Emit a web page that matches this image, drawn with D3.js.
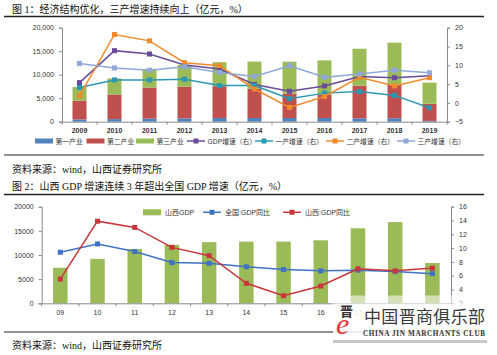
<!DOCTYPE html>
<html><head><meta charset="utf-8">
<script src="https://cdn.jsdelivr.net/npm/d3@7"></script>
<style>
html,body{margin:0;padding:0;background:#fff;}
svg{display:block;}
.cap{font-family:"Liberation Serif","Noto Sans CJK SC",serif;fill:#111;}
.ax{font-family:"Liberation Sans","Noto Sans CJK SC",sans-serif;fill:#333;}
</style></head><body>
<svg id="c" width="497" height="355"></svg>
<script>
// ---- Chart 1 data ----
const years = ["2009","2010","2011","2012","2013","2014","2015","2016","2017","2018","2019"];
const primary   = [478, 554, 641, 698, 774, 788, 783, 785, 719, 741, 170];
const secondary = [3994, 5234, 6635, 6731, 6792, 6200, 5194, 4926, 6950, 7089, 3650];
const tertiary  = [2887, 3412, 3962, 4683, 5099, 5800, 6790, 7339, 7860, 8988, 4490];
const gdpGrowth  = [5.4, 13.9, 13.0, 10.1, 9.0, 4.9, 3.1, 4.5, 7.0, 6.7, 7.2];
const g1Growth   = [4.1, 6.1, 6.1, 6.3, 4.6, 4.6, 1.1, 2.6, 3.0, 2.0, -1.3];
const g2Growth   = [1.9, 18.2, 16.5, 10.7, 9.9, 3.7, -1.2, 1.7, 6.8, 4.5, 6.7];
const g3Growth   = [10.5, 9.3, 8.7, 9.6, 8.1, 7.0, 9.9, 6.8, 7.7, 8.7, 8.0];
const leftTicks1 = [0, 5000, 10000, 15000, 20000];
const rightTicks1 = [-5, 0, 5, 10, 15, 20];

// ---- Chart 2 data ----
const years2 = ["09","10","11","12","13","14","15","16","17","18","19"];
const shanxiGDP = [7358, 9200, 11238, 12112, 12665, 12761, 12766, 13050, 15528, 16818, 8340];
const nationalGrowth = [9.4, 10.6, 9.5, 7.9, 7.8, 7.3, 6.9, 6.7, 6.8, 6.6, 6.3];
const shanxiGrowth = [5.5, 13.9, 13.0, 10.1, 8.9, 4.9, 3.1, 4.5, 7.0, 6.7, 7.1];
const leftTicks2 = [0, 5000, 10000, 15000, 20000];
const rightTicks2 = [2, 4, 6, 8, 10, 12, 14, 16];

const svg = d3.select("#c");
const AX = "#8a8a8a";

// ---------- captions & rules ----------
function cap(x, y, t, size) {
  svg.append("text").attr("class","cap").attr("x",x).attr("y",y)
    .attr("font-size",size).text(t);
}
function rule(x1, x2, y, w) {
  svg.append("line").attr("x1",x1).attr("x2",x2).attr("y1",y).attr("y2",y)
    .attr("stroke","#222").attr("stroke-width",w);
}
cap(12, 13, "图 1：经济结构优化，三产增速持续向上（亿元，%）", 10);
rule(4, 484, 16.5, 1.5);
rule(4, 484, 155, 1.2);
cap(12, 173, "资料来源：wind，山西证券研究所", 10);
cap(12, 190, "图 2：山西 GDP 增速连续 3 年超出全国 GDP 增速（亿元，%）", 10);
rule(4, 484, 194.5, 1.5);
rule(4, 484, 332, 1.2);
cap(12, 349, "资料来源：wind，山西证券研究所", 10);

// ---------- chart 1 ----------
(function(){
  const x = d3.scaleBand().domain(years).range([62, 447]).paddingInner(0.6).paddingOuter(0.3);
  const xb = d3.scaleBand().domain(years).range([62, 447]);
  const yL = d3.scaleLinear().domain([0, 20000]).range([121.7, 27.7]);
  const yR = d3.scaleLinear().domain([-5, 20]).range([121.7, 27.7]);
  const g = svg.append("g");

  const stackData = years.map((y,i)=>({year:y, p:primary[i], s:secondary[i], t:tertiary[i]}));
  const stack = d3.stack().keys(["p","s","t"])(stackData);
  const barColors = {p:"#4F81BD", s:"#C0504D", t:"#9BBB59"};
  stack.forEach(layer=>{
    g.selectAll(null).data(layer).join("rect")
      .attr("x", d=>xb(d.data.year) + (xb.bandwidth()-14)/2)
      .attr("width", 14)
      .attr("y", d=>yL(d[1]))
      .attr("height", d=>yL(d[0]) - yL(d[1]))
      .attr("fill", barColors[layer.key]);
  });

  // axes
  const axL = d3.axisLeft(yL).tickValues(leftTicks1).tickFormat(d3.format(",")).tickSize(3).tickPadding(5);
  const gl = g.append("g").attr("transform","translate(62,0)").call(axL);
  const axR = d3.axisRight(yR).tickValues(rightTicks1).tickSize(3).tickPadding(5);
  const gr = g.append("g").attr("transform","translate(447,0)").call(axR);
  const axB = d3.axisBottom(xb).tickSize(0).tickPadding(6);
  const gb = g.append("g").attr("transform","translate(0,121.7)").call(axB);
  gb.selectAll(null).data(years.concat(["end"])).join("line")
    .attr("x1",(d,i)=>62 + i*xb.step()).attr("x2",(d,i)=>62 + i*xb.step())
    .attr("y1",0).attr("y2",3).attr("stroke",AX);
  [gl,gr,gb].forEach(a=>{
    a.selectAll("path,line").attr("stroke",AX);
    a.selectAll("text").attr("class","ax").attr("font-size",7).attr("fill","#333");
    a.attr("font-family",null).attr("font-size",null);
  });
  gb.selectAll("text").attr("font-weight","bold").attr("fill","#444");

  // lines
  const series = [
    {v:gdpGrowth, c:"#6A4B9A"},
    {v:g1Growth, c:"#2C97B3"},
    {v:g2Growth, c:"#F08A2C"},
    {v:g3Growth, c:"#8FA8D8"}
  ];
  const cx = d=>xb(d.y) + xb.bandwidth()/2;
  series.forEach(s=>{
    const pts = years.map((y,i)=>({y, v:s.v[i]}));
    g.append("path").datum(pts)
      .attr("d", d3.line().x(cx).y(d=>yR(d.v)))
      .attr("fill","none").attr("stroke",s.c).attr("stroke-width",1.5);
    g.selectAll(null).data(pts).join("rect")
      .attr("x", d=>cx(d)-2.5).attr("y", d=>yR(d.v)-2.5)
      .attr("width",5).attr("height",5).attr("fill",s.c);
  });

  // legend
  const leg = [
    {t:"第一产业", c:"#4F81BD", type:"bar", x:35},
    {t:"第二产业", c:"#C0504D", type:"bar", x:86.5},
    {t:"第三产业", c:"#9BBB59", type:"bar", x:136},
    {t:"GDP增速（右）", c:"#6A4B9A", type:"line", x:187},
    {t:"一产增速（右）", c:"#2C97B3", type:"line", x:255},
    {t:"二产增速（右）", c:"#F08A2C", type:"line", x:326},
    {t:"三产增速（右）", c:"#8FA8D8", type:"line", x:397}
  ];
  const ly = 141;
  leg.forEach(l=>{
    if (l.type==="bar") {
      g.append("rect").attr("x",l.x).attr("y",ly-2.5).attr("width",18).attr("height",5).attr("fill",l.c);
    } else {
      g.append("line").attr("x1",l.x).attr("x2",l.x+18).attr("y1",ly).attr("y2",ly)
        .attr("stroke",l.c).attr("stroke-width",1.5);
      g.append("rect").attr("x",l.x+6.5).attr("y",ly-2.5).attr("width",5).attr("height",5).attr("fill",l.c);
    }
    g.append("text").attr("class","ax").attr("x",l.x+20.5).attr("y",ly+2.5)
      .attr("font-size",6.8).attr("fill","#444").text(l.t);
  });
})();

// ---------- chart 2 ----------
(function(){
  const xb = d3.scaleBand().domain(years2).range([41.7, 451]);
  const yL = d3.scaleLinear().domain([0, 20000]).range([303.3, 206.7]);
  const yR = d3.scaleLinear().domain([2, 16]).range([303.3, 206.7]);
  const g = svg.append("g");
  const bw = 14.5;
  g.selectAll(null).data(years2).join("rect")
    .attr("x", d=>xb(d) + (xb.bandwidth()-bw)/2)
    .attr("width", bw)
    .attr("y", (d,i)=>yL(shanxiGDP[i]))
    .attr("height", (d,i)=>yL(0)-yL(shanxiGDP[i]))
    .attr("fill","#9BBB59");

  const axL = d3.axisLeft(yL).tickValues(leftTicks2).tickFormat(d3.format("d")).tickSize(3).tickPadding(5);
  const gl = g.append("g").attr("transform","translate(41.7,0)").call(axL);
  const axR = d3.axisRight(yR).tickValues(rightTicks2).tickSize(3).tickPadding(5);
  const gr = g.append("g").attr("transform","translate(451,0)").call(axR);
  const axB = d3.axisBottom(xb).tickSize(0).tickPadding(7);
  const gb = g.append("g").attr("transform","translate(0,303.3)").call(axB);
  gb.selectAll(null).data(years2.concat(["end"])).join("line")
    .attr("x1",(d,i)=>41.7 + i*xb.step()).attr("x2",(d,i)=>41.7 + i*xb.step())
    .attr("y1",0).attr("y2",3).attr("stroke",AX);
  [gl,gr,gb].forEach(a=>{
    a.selectAll("path,line").attr("stroke",AX);
    a.selectAll("text").attr("class","ax").attr("font-size",7).attr("fill","#333");
    a.attr("font-family",null).attr("font-size",null);
  });

  const cx = d=>xb(d.y) + xb.bandwidth()/2;
  [{v:nationalGrowth, c:"#3F72C2"},{v:shanxiGrowth, c:"#C8363A"}].forEach(s=>{
    const pts = years2.map((y,i)=>({y, v:s.v[i]}));
    g.append("path").datum(pts)
      .attr("d", d3.line().x(cx).y(d=>yR(d.v)))
      .attr("fill","none").attr("stroke",s.c).attr("stroke-width",1.5);
    g.selectAll(null).data(pts).join("rect")
      .attr("x", d=>cx(d)-2.5).attr("y", d=>yR(d.v)-2.5)
      .attr("width",5).attr("height",5).attr("fill",s.c);
  });

  // legend
  const ly = 212.3;
  g.append("rect").attr("x",143).attr("y",ly-3).attr("width",18).attr("height",6).attr("fill","#9BBB59");
  g.append("text").attr("class","ax").attr("x",165).attr("y",ly+2.5).attr("font-size",7).attr("fill","#333").text("山西GDP");
  [{x:203, c:"#3F72C2", t:"全国:GDP同比"},{x:283, c:"#C8363A", t:"山西:GDP同比"}].forEach(l=>{
    g.append("line").attr("x1",l.x).attr("x2",l.x+18).attr("y1",ly).attr("y2",ly).attr("stroke",l.c).attr("stroke-width",1.5);
    g.append("rect").attr("x",l.x+6.5).attr("y",ly-2.5).attr("width",5).attr("height",5).attr("fill",l.c);
    g.append("text").attr("class","ax").attr("x",l.x+22).attr("y",ly+2.5).attr("font-size",7).attr("fill","#333").text(l.t);
  });
})();

// ---------- watermark ----------
(function(){
  const w = svg.append("g");
  w.append("rect").attr("x",336).attr("y",295.5).attr("width",150).attr("height",8).attr("fill","#fff").attr("opacity",0.55);
  w.append("rect").attr("x",333).attr("y",303.5).attr("width",154).attr("height",36.5).attr("fill","#fff").attr("opacity",0.85);
  w.append("rect").attr("x",333).attr("y",340).attr("width",154).attr("height",3).attr("fill","#999").attr("opacity",0.55);
  w.append("text").attr("x",336).attr("y",334).attr("font-family","Liberation Serif,serif")
    .attr("font-style","italic").attr("font-size",30).attr("fill","#E0383A").text("e");
  w.append("text").attr("x",340).attr("y",316).attr("font-family","Noto Sans CJK SC")
    .attr("font-size",13).attr("font-weight","bold").attr("fill","#333").text("晋");
  w.append("text").attr("x",364).attr("y",323).attr("font-family","Noto Sans CJK SC")
    .attr("font-size",17).attr("fill","#3a3a3a").attr("textLength",121).text("中国晋商俱乐部");
  w.append("text").attr("x",363).attr("y",336).attr("font-family","Liberation Serif,serif")
    .attr("font-size",7.2).attr("font-weight","bold").attr("fill","#333").attr("textLength",122).text("CHINA JIN MARCHANTS CLUB");
})();
</script>
</body></html>
